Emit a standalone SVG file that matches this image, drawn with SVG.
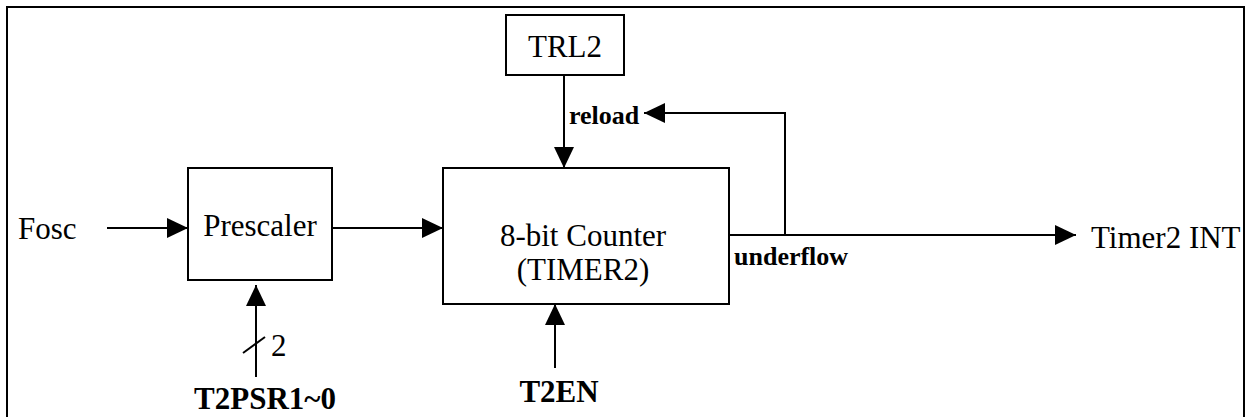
<svg xmlns="http://www.w3.org/2000/svg" width="1249" height="417" viewBox="0 0 1249 417">
<style>
.box{fill:#fff;stroke:#000;stroke-width:2}
.ln{fill:none;stroke:#000;stroke-width:2}
text{font-family:"Liberation Serif","Times New Roman",serif;fill:#000}
.t{font-size:31px;font-weight:normal}
.b{font-weight:bold}
</style>
<defs>
<marker id="ah" viewBox="0 0 21 20" refX="21" refY="10" markerWidth="21" markerHeight="20" markerUnits="userSpaceOnUse" orient="auto">
<path d="M0,0 L21,10 L0,20 z" fill="#000"/>
</marker>
</defs>
<rect x="7" y="7" width="1237" height="420" fill="#fff" stroke="#000" stroke-width="2"/>
<g id="connectors">
<line class="ln" x1="107" y1="228" x2="188" y2="228" marker-end="url(#ah)"/>
<line class="ln" x1="332" y1="228" x2="443" y2="228" marker-end="url(#ah)"/>
<line class="ln" x1="564" y1="75" x2="564" y2="168" marker-end="url(#ah)"/>
<line class="ln" x1="729" y1="235" x2="1076" y2="235" marker-end="url(#ah)"/>
<polyline class="ln" points="785,235 785,113 644,113" marker-end="url(#ah)"/>
<line class="ln" x1="256" y1="377" x2="256" y2="285" marker-end="url(#ah)"/>
<line class="ln" x1="243" y1="353" x2="265" y2="337"/>
<line class="ln" x1="555" y1="368" x2="555" y2="304" marker-end="url(#ah)"/>
</g>
<g id="fosc"><text class="t" x="18" y="239" font-family="Liberation Serif, serif">Fosc</text></g>
<g id="prescaler">
<rect class="box" x="188" y="168" width="144" height="112"/>
<text class="t" x="260" y="236" text-anchor="middle" font-family="Liberation Serif, serif">Prescaler</text>
</g>
<g id="trl2">
<rect class="box" x="506" y="15" width="118" height="60"/>
<text class="t" x="565" y="57" text-anchor="middle" font-family="Liberation Serif, serif">TRL2</text>
</g>
<g id="counter">
<rect class="box" x="443" y="168" width="286" height="136"/>
<text class="t" x="583" y="246" text-anchor="middle" font-family="Liberation Serif, serif">8-bit Counter</text>
<text class="t" x="583" y="280" text-anchor="middle" font-family="Liberation Serif, serif">(TIMER2)</text>
</g>
<g id="timer2int"><text class="t" x="1091" y="248" font-family="Liberation Serif, serif">Timer2 INT</text></g>
<g id="labels">
<text class="b" x="569" y="124" font-size="26">reload</text>
<text class="b" x="734" y="265" font-size="26">underflow</text>
<text class="t" x="271" y="356" font-family="Liberation Serif, serif">2</text>
<text class="b" x="265" y="409" font-size="31" text-anchor="middle">T2PSR1~0</text>
<text class="b" x="559" y="402" font-size="31" text-anchor="middle">T2EN</text>
</g>
</svg>
